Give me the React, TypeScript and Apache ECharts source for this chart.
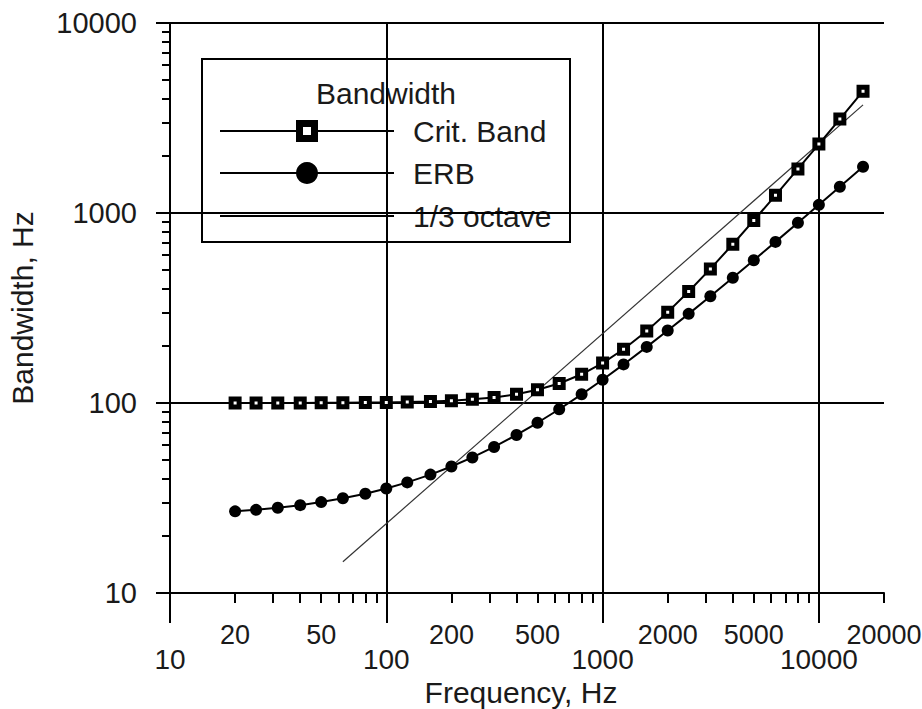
import React, { useEffect, useRef } from "react";
import * as echarts from "echarts";

// Third-octave centre frequencies (Hz)
const freqs = [20, 25, 31.5, 40, 50, 63, 80, 100, 125, 160, 200, 250, 315, 400, 500, 630, 800, 1000, 1250, 1600, 2000, 2500, 3150, 4000, 5000, 6300, 8000, 10000, 12500, 16000];
// Critical bandwidth (Hz)
const critBand = [100, 100, 100.1, 100.1, 100.2, 100.3, 100.5, 100.7, 101.1, 101.8, 102.9, 104.5, 107, 111.2, 117.3, 126.7, 141.6, 162.2, 191.9, 239.5, 300.8, 386, 508, 685, 914, 1239, 1706, 2306, 3123, 4374];
// Equivalent rectangular bandwidth (Hz)
const erb = [26.9, 27.4, 28.1, 29.0, 30.1, 31.5, 33.3, 35.5, 38.2, 42.0, 46.3, 51.7, 58.7, 67.9, 78.7, 92.7, 111.1, 132.6, 159.6, 197.4, 240.6, 294.5, 364.7, 456.5, 564.4, 704.7, 888.2, 1104, 1374, 1752];
// 1/3 octave line end points
const thirdOctaveFreqs = [63, 16000];
const thirdOctave = [14.6, 3706];

// Tick values
const xMajorTicks = [10, 100, 1000, 10000];
const xMinorLabels = [20, 50, 200, 500, 2000, 5000, 20000];
const xMinorTicks = [20, 30, 40, 50, 60, 70, 80, 90, 200, 300, 400, 500, 600, 700, 800, 900, 2000, 3000, 4000, 5000, 6000, 7000, 8000, 9000, 20000];
const yMajorTicks = [10, 100, 1000, 10000];
const yMinorTicks = [20, 30, 40, 50, 60, 70, 80, 90, 200, 300, 400, 500, 600, 700, 800, 900, 2000, 3000, 4000, 5000, 6000, 7000, 8000, 9000];

const FONT = "'Liberation Sans', Arial, sans-serif";
const FS = 30;
const TICK_FS = 28;
const TXT = "#1a1a1a";

const pairs = (xs: number[], ys: number[]) => xs.map((x, i) => [x, ys[i]]);
const fmt = (v: number) => String(Math.round(v));

export default function App() {
  const ref = useRef<HTMLDivElement>(null);
  useEffect(() => {
    if (!ref.current) return;
    const chart = echarts.init(ref.current, null, { renderer: "svg" });
    const labelStyle = { fontSize: TICK_FS, fontFamily: FONT, color: TXT };
    chart.setOption({
      animation: false,
      backgroundColor: "#fff",
      grid: { left: 170, right: 38, top: 23, bottom: 116, containLabel: false, outerBoundsMode: "none" },
      xAxis: [
        {
          type: "log", logBase: 10, min: 10, max: 20000, position: "bottom",
          axisLine: { show: true, lineStyle: { color: "#000", width: 2 } },
          axisTick: { show: true, inside: false, customValues: xMajorTicks, length: 30, lineStyle: { color: "#000", width: 2 } },
          axisLabel: { ...labelStyle, customValues: xMajorTicks, margin: 52, formatter: fmt, showMinLabel: true, showMaxLabel: true },
          splitLine: { show: true, lineStyle: { color: "#000", width: 2 } },
          minorTick: { show: false },
          name: "Frequency, Hz", nameLocation: "middle", nameGap: 83,
          nameTextStyle: { fontSize: FS, fontFamily: FONT, color: TXT, padding: [0, 12, 0, 0] },
        },
        {
          type: "log", logBase: 10, min: 10, max: 20000, position: "bottom",
          axisLine: { show: false },
          axisTick: { show: true, inside: false, customValues: xMinorTicks, length: 10, lineStyle: { color: "#000", width: 2 } },
          axisLabel: { ...labelStyle, fontSize: 27, customValues: xMinorLabels, margin: 28, formatter: fmt, showMinLabel: true, showMaxLabel: true },
          splitLine: { show: false },
        },
      ],
      yAxis: [
        {
          type: "log", logBase: 10, min: 10, max: 10000, position: "left",
          axisLine: { show: true, lineStyle: { color: "#000", width: 2 } },
          axisTick: { show: true, inside: false, customValues: yMajorTicks, length: 14, lineStyle: { color: "#000", width: 2 } },
          axisLabel: { ...labelStyle, fontSize: 29, customValues: yMajorTicks, margin: 33, formatter: fmt, showMinLabel: true, showMaxLabel: true },
          splitLine: { show: true, lineStyle: { color: "#000", width: 2 } },
          name: "Bandwidth, Hz", nameLocation: "middle", nameGap: 133, nameRotate: 90,
          nameTextStyle: { fontSize: FS, fontFamily: FONT, color: TXT },
        },
        {
          type: "log", logBase: 10, min: 10, max: 10000, position: "left",
          axisLine: { show: false },
          axisTick: { show: true, inside: false, customValues: yMinorTicks, length: 8, lineStyle: { color: "#000", width: 2 } },
          axisLabel: { show: false },
          splitLine: { show: false },
        },
      ],
      series: [
        {
          name: "1/3 octave", type: "line", xAxisIndex: 0, yAxisIndex: 0,
          data: pairs(thirdOctaveFreqs, thirdOctave),
          showSymbol: false, symbol: "none",
          lineStyle: { color: "#333", width: 1.2 }, z: 2,
        },
        {
          name: "ERB", type: "line", xAxisIndex: 0, yAxisIndex: 0,
          data: pairs(freqs, erb),
          symbol: "circle", symbolSize: 12,
          itemStyle: { color: "#000" },
          lineStyle: { color: "#000", width: 2 }, z: 3,
        },
        {
          name: "Crit. Band", type: "line", xAxisIndex: 0, yAxisIndex: 0,
          data: pairs(freqs, critBand),
          symbol: "rect", symbolSize: 8,
          itemStyle: { color: "#fff", borderColor: "#000", borderWidth: 5 },
          lineStyle: { color: "#000", width: 2 }, z: 4,
        },
      ],
      graphic: [
        {
          type: "group", z: 100,
          children: [
            { type: "rect", shape: { x: 202, y: 59, width: 368, height: 183 }, style: { fill: "#fff", stroke: "#000", lineWidth: 2 } },
            { type: "text", x: 386, y: 93, style: { text: "Bandwidth", align: "center", verticalAlign: "middle", fontSize: FS, fontFamily: FONT, fill: TXT } },
            { type: "line", shape: { x1: 220, y1: 131, x2: 394, y2: 131 }, style: { stroke: "#000", lineWidth: 2 } },
            { type: "rect", shape: { x: 299.5, y: 123.5, width: 15, height: 15 }, style: { fill: "#fff", stroke: "#000", lineWidth: 7 } },
            { type: "text", x: 413, y: 131, style: { text: "Crit. Band", align: "left", verticalAlign: "middle", fontSize: FS, fontFamily: FONT, fill: TXT } },
            { type: "line", shape: { x1: 220, y1: 173, x2: 394, y2: 173 }, style: { stroke: "#000", lineWidth: 2 } },
            { type: "circle", shape: { cx: 307, cy: 173, r: 11 }, style: { fill: "#000" } },
            { type: "text", x: 413, y: 173, style: { text: "ERB", align: "left", verticalAlign: "middle", fontSize: FS, fontFamily: FONT, fill: TXT } },
            { type: "line", shape: { x1: 220, y1: 216, x2: 394, y2: 216 }, style: { stroke: "#000", lineWidth: 2 } },
            { type: "text", x: 413, y: 216, style: { text: "1/3 octave", align: "left", verticalAlign: "middle", fontSize: FS, fontFamily: FONT, fill: TXT } },
          ],
        },
      ],
    });
    return () => chart.dispose();
  }, []);
  return <div ref={ref} style={{ position: "fixed", left: 0, top: 0, width: 922, height: 709 }} />;
}
